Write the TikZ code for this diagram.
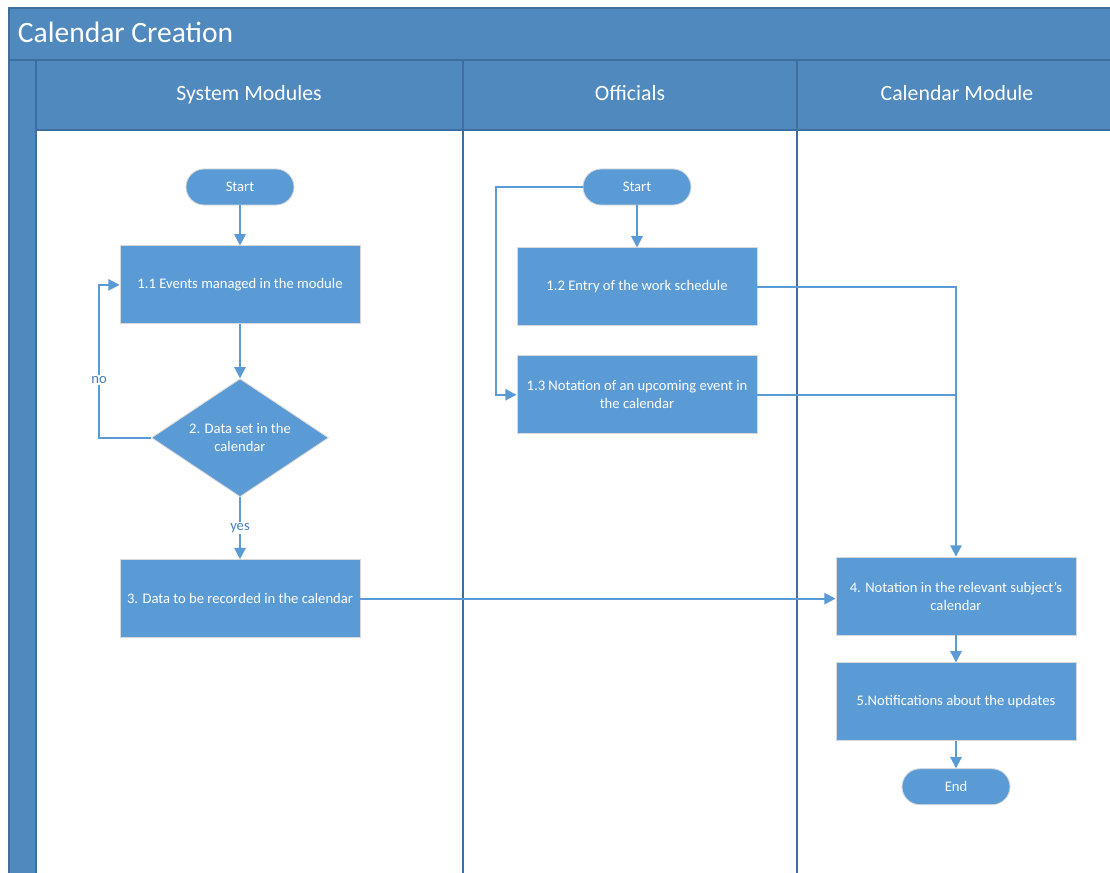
\documentclass[tikz,border=0pt]{standalone}
\usepackage{fontspec}
\setmainfont{Carlito}
\usetikzlibrary{arrows.meta,positioning,shapes.geometric}
\definecolor{calHeaderBlue}{RGB}{79,137,189}
\definecolor{calBorderBlue}{RGB}{62,110,158}
\definecolor{calNodeBlue}{RGB}{91,155,213}
\definecolor{calLabelBlue}{RGB}{68,128,190}

\begin{document}
\begin{tikzpicture}[
  x=0.025cm,y=-0.025cm,
  header/.style={draw=calBorderBlue,line width=1.2pt,fill=calHeaderBlue},
  laneline/.style={draw=calBorderBlue,line width=1.3pt},
  lanetitle/.style={anchor=base,text=white,font=\fontsize{15.5}{18}\selectfont},
  process/.style={rectangle,fill=calNodeBlue,draw=black!15,line width=0.6pt,minimum width=6cm,minimum height=1.95cm,align=center,text=white,font=\fontsize{10.4}{12.8}\selectfont},
  terminal/.style={rectangle,rounded corners=0.45cm,fill=calNodeBlue,draw=black!15,line width=0.6pt,minimum width=2.7cm,minimum height=0.9cm,text=white,font=\fontsize{10.4}{12.8}\selectfont},
  decision/.style={diamond,aspect=1.5,fill=calNodeBlue,draw=black!15,line width=0.6pt,minimum width=4.425cm,minimum height=2.95cm,inner sep=0pt,align=center,text=white,font=\fontsize{10.4}{12.8}\selectfont},
  flow/.style={line width=1.4pt,calNodeBlue},
  arrow/.style={flow,-{Triangle[length=8pt,width=8pt]}},
  branch/.style={fill=white,inner sep=1pt,text=calLabelBlue,font=\fontsize{10.4}{12.8}\selectfont}
]
  \useasboundingbox (0,0) rectangle (1110,873);
  \fill[white] (0,0) rectangle (1110,873);
  \draw[header] (9,8) rectangle (1125,60);
  \node[anchor=base west,text=white,font=\fontsize{21}{25}\selectfont] (title) at (13,43) {Calendar Creation};
  \draw[header] (9,60) rectangle (36,885);
  \draw[header] (36,60) rectangle (463,130);
  \draw[header] (463,60) rectangle (797,130);
  \draw[header] (797,60) rectangle (1125,130);
  \node[lanetitle] (sysLane) at (249,101) {System Modules};
  \node[lanetitle] (offLane) at (630,101) {Officials};
  \node[lanetitle] (calLane) at (957,101) {Calendar Module};
  \draw[laneline] (463,130) -- (463,885);
  \draw[laneline] (797,130) -- (797,885);

  \node[terminal] (start1) at (240,187) {Start};
  \node[process,below=1cm of start1] (events) {1.1 Events managed in the module};
  \node[decision,below=1.35cm of events] (dataset) {2. Data set in the\\calendar};
  \node[process,below=1.55cm of dataset] (record) {3. Data to be recorded in the calendar};

  \node[terminal] (start2) at (637,187) {Start};
  \node[process,below=1.05cm of start2] (schedule) {1.2 Entry of the work schedule};
  \node[process,below=0.725cm of schedule] (upcoming) {1.3 Notation of an upcoming event in\\the calendar};

  \node[process] (notation) at (956,596) {4. Notation in the relevant subject's\\calendar};
  \node[process,below=0.675cm of notation] (notify) {5.Notifications about the updates};
  \node[terminal,below=0.675cm of notify] (end) {End};

  \draw[arrow] (start1) -- (events);
  \draw[arrow] (events) -- (dataset);
  \draw[arrow] (dataset.west) -- ++(-52,0) |- node[branch,pos=0.19] {no} (events.west);
  \draw[arrow] (dataset) -- node[branch] {yes} (record);
  \draw[arrow] (record.east) -- (record.east -| notation.west);
  \draw[arrow] (start2) -- (schedule);
  \draw[arrow] (start2.west) -- ++(-87,0) |- (upcoming.west);
  \draw[arrow] (schedule.east) -| (notation.north);
  \draw[flow] (upcoming.east) -- (upcoming.east -| notation.north);
  \draw[arrow] (notation) -- (notify);
  \draw[arrow] (notify) -- (end);
\end{tikzpicture}
\end{document}
